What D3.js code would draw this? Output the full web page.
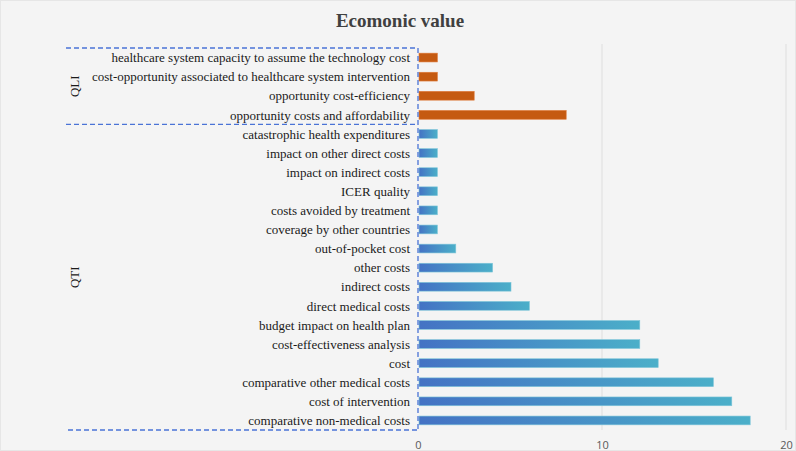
<!DOCTYPE html>
<html>
<head>
<meta charset="utf-8">
<script src="https://cdn.jsdelivr.net/npm/d3@7"></script>
<style>
  html, body { margin: 0; padding: 0; background: #f4f4f4; }
  svg { display: block; }
</style>
</head>
<body>
<div id="chart"></div>
<script>
// ---- data (top-to-bottom display order) ----
const qliCategories = [
  "healthcare system capacity to assume the technology cost",
  "cost-opportunity associated to healthcare system intervention",
  "opportunity cost-efficiency",
  "opportunity costs and affordability"
];
const qliValues = [1, 1, 3, 8];

const qtiCategories = [
  "catastrophic health expenditures",
  "impact on other direct costs",
  "impact on indirect costs",
  "ICER quality",
  "costs avoided by treatment",
  "coverage by other countries",
  "out-of-pocket cost",
  "other costs",
  "indirect costs",
  "direct medical costs",
  "budget impact on health plan",
  "cost-effectiveness analysis",
  "cost",
  "comparative other medical costs",
  "cost of intervention",
  "comparative non-medical costs"
];
const qtiValues = [1, 1, 1, 1, 1, 1, 2, 4, 5, 6, 12, 12, 13, 16, 17, 18];

const groupNames = ["QLI", "QTI"];
const xTicks = [0, 10, 20];
const title = "Ecomonic value";

// ---- build ----
const rows = [
  ...qliCategories.map((c, i) => ({ cat: c, value: qliValues[i], group: "QLI" })),
  ...qtiCategories.map((c, i) => ({ cat: c, value: qtiValues[i], group: "QTI" }))
];

const W = 796, H = 451;
const plotLeft = 418, plotRight = 786, plotTop = 48, plotBottom = 430;

const svg = d3.select("#chart").append("svg")
  .attr("width", W).attr("height", H);

svg.append("rect").attr("x", 0.5).attr("y", 0.5).attr("width", W - 1).attr("height", H - 1)
  .attr("fill", "#f4f4f4").attr("stroke", "#e6e6e6");

const defs = svg.append("defs");
const grad = defs.append("linearGradient").attr("id", "blueGrad")
  .attr("x1", "0%").attr("x2", "100%").attr("y1", "0%").attr("y2", "0%");
grad.append("stop").attr("offset", "0%").attr("stop-color", "#4472c4");
grad.append("stop").attr("offset", "100%").attr("stop-color", "#4bafc9");

const x = d3.scaleLinear().domain([0, 20]).range([plotLeft, plotRight]);
const y = d3.scaleBand().domain(rows.map(d => d.cat)).range([plotTop, plotBottom]).paddingInner(0.54).paddingOuter(0.27);

// title
svg.append("text").attr("x", 400).attr("y", 27).attr("text-anchor", "middle")
  .attr("font-family", "Liberation Serif, serif").attr("font-weight", "bold")
  .attr("font-size", 19).attr("fill", "#404040").text(title);

// gridlines
svg.append("g").selectAll("line").data(xTicks.filter(t => t > 0)).join("line")
  .attr("x1", d => x(d)).attr("x2", d => x(d))
  .attr("y1", plotTop - 4).attr("y2", plotBottom)
  .attr("stroke", "#dedede").attr("stroke-width", 1);

// x axis tick labels
const xAxis = d3.axisBottom(x).tickValues(xTicks).tickSize(0).tickPadding(10);
const gx = svg.append("g").attr("transform", `translate(0,${plotBottom + 1})`).call(xAxis);
gx.select(".domain").remove();
gx.selectAll("text").attr("font-family", "Open Sans, sans-serif").attr("font-size", 11).attr("fill", "#595959");

// bars
svg.append("g").selectAll("rect").data(rows).join("rect")
  .attr("x", x(0) + 1)
  .attr("y", d => y(d.cat))
  .attr("width", d => x(d.value) - x(0))
  .attr("height", y.bandwidth())
  .attr("fill", d => d.group === "QLI" ? "#c55a11" : "url(#blueGrad)")
  .attr("stroke", d => d.group === "QLI" ? "#e07a3a" : "#7fc6d9")
  .attr("stroke-width", 0.6);

// category labels
const yAxis = d3.axisLeft(y).tickSize(0).tickPadding(8);
const gy = svg.append("g").attr("transform", `translate(${plotLeft},0.5)`).call(yAxis);
gy.select(".domain").remove();
gy.selectAll("text").attr("font-family", "Liberation Serif, serif").attr("font-size", 13).attr("fill", "#1a1a1a");

// group brackets (dashed)
const dash = "5,3";
const blue = "#4a73d6";
const groupBounds = groupNames.map(g => {
  const cats = rows.filter(r => r.group === g).map(r => r.cat);
  const top = y(cats[0]) - y.step() * y.paddingInner() / 2;
  const bot = y(cats[cats.length - 1]) + y.bandwidth() + y.step() * y.paddingInner() / 2;
  return { g, top, bot };
});
groupBounds[0].top = plotTop; groupBounds[1].bot = plotBottom;
const bl = svg.append("g").attr("stroke", blue).attr("stroke-width", 1.3).attr("stroke-dasharray", dash).attr("fill", "none");
bl.append("line").attr("x1", plotLeft).attr("x2", plotLeft).attr("y1", plotTop).attr("y2", plotBottom);
bl.append("line").attr("x1", 66).attr("x2", plotLeft).attr("y1", plotTop).attr("y2", plotTop);
bl.append("line").attr("x1", 66).attr("x2", plotLeft).attr("y1", groupBounds[0].bot).attr("y2", groupBounds[0].bot);
bl.append("line").attr("x1", 68).attr("x2", plotLeft).attr("y1", plotBottom).attr("y2", plotBottom);

svg.append("g").selectAll("text").data(groupBounds).join("text")
  .attr("transform", d => `translate(79,${(d.top + d.bot) / 2}) rotate(-90)`)
  .attr("text-anchor", "middle")
  .attr("font-family", "Liberation Serif, serif").attr("font-size", 13).attr("fill", "#1a1a1a")
  .text(d => d.g);
</script>
</body>
</html>
